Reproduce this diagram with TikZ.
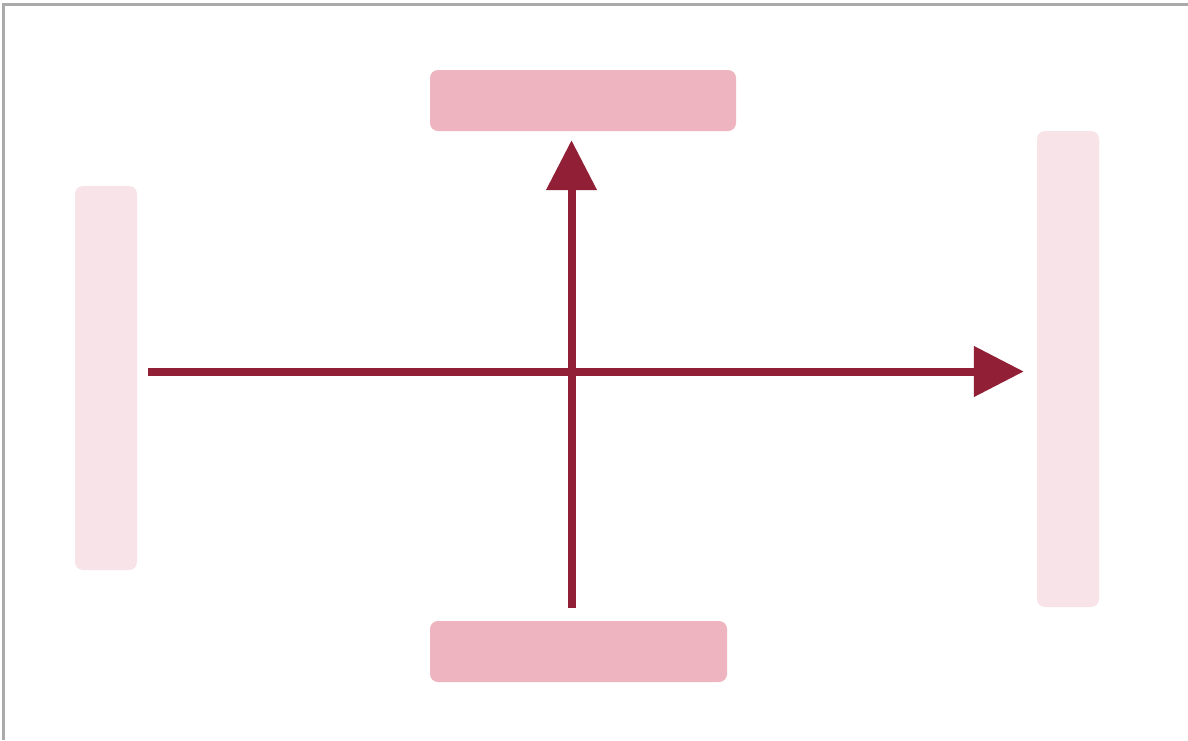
\documentclass[tikz,border=0pt]{standalone}
\usetikzlibrary{arrows.meta}
\definecolor{darkred}{HTML}{911F36}
\definecolor{pinkbox}{HTML}{EEB4BF}
\definecolor{palebox}{HTML}{F8E4E8}
\definecolor{framegray}{HTML}{AAAAAA}
\tikzset{
  hbox/.style={rectangle, rounded corners=8pt, fill=pinkbox, draw=none, inner sep=0pt},
  vbox/.style={rectangle, rounded corners=8pt, fill=palebox, draw=none, inner sep=0pt},
  conn/.style={draw=darkred, line width=8pt, -{Triangle[length=50pt,width=49pt]}}
}
\begin{document}
\begin{tikzpicture}[x=1pt,y=-1pt]
\useasboundingbox (0,0) rectangle (1188,740);
\fill[white] (0,0) rectangle (1188,740);
\draw[framegray, line width=3pt] (3.5,740) -- (3.5,4.5) -- (1188,4.5);
\node[hbox, minimum width=306pt, minimum height=61pt] (top) at (583,100.5) {};
\node[hbox, minimum width=297pt, minimum height=61pt] (bottom) at (578.5,651.5) {};
\node[vbox, minimum width=62pt, minimum height=384pt] (left) at (106,378) {};
\node[vbox, minimum width=62pt, minimum height=476pt] (right) at (1068,369) {};
\coordinate (hy) at (0,371.5);
\coordinate (vx) at (571.5,0);
\draw[conn, shorten <=11pt, shorten >=13pt] (left.east |- hy) -- (right.west |- hy);
\draw[conn, shorten <=13pt, shorten >=9pt] (bottom.north -| vx) -- (top.south -| vx);
\end{tikzpicture}
\end{document}
